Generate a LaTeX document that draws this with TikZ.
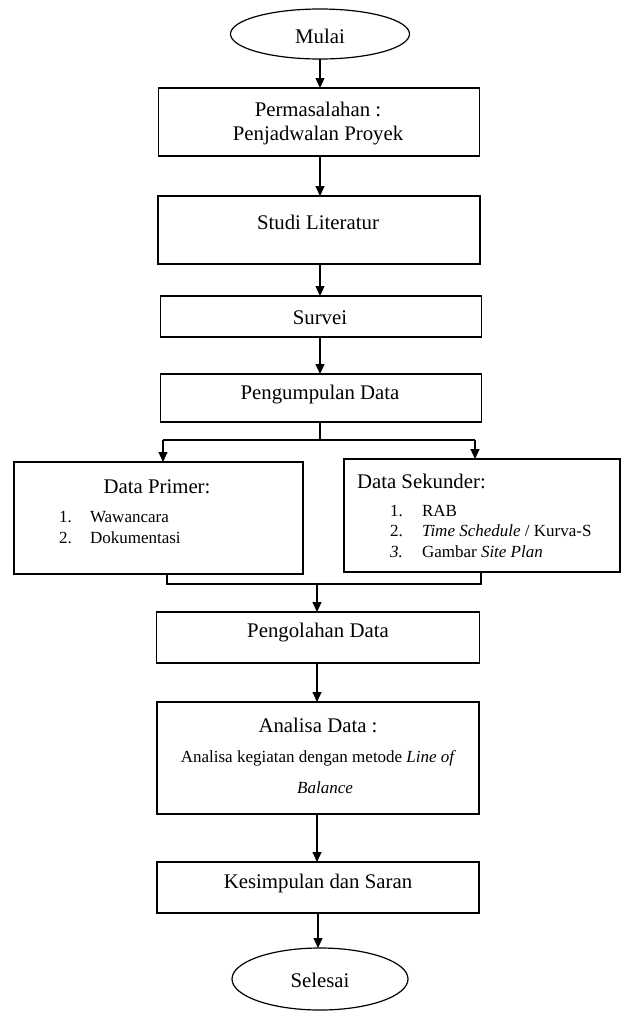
\documentclass[tikz,border=0pt]{standalone}
\usepackage{fontspec}
\setmainfont{Liberation Serif}
\usetikzlibrary{arrows.meta,shapes.geometric}
\begin{document}
\begin{tikzpicture}[x=1pt,y=-1pt,
  every node/.style={inner sep=0pt, outer sep=0pt},
  boxnode/.style={draw, line width=1.2pt, rectangle},
  ovalnode/.style={draw, line width=1.2pt, ellipse},
  big/.style={font=\fontsize{20.8}{24}\selectfont},
  small/.style={font=\fontsize{17}{20.5}\selectfont},
  conn/.style={line width=1.2pt},
  arr/.style={line width=1.2pt, -{Triangle[length=10pt,width=9pt]}}]
\useasboundingbox (0,0) rectangle (622,1012);
% shapes
\node[ovalnode, minimum width=179pt, minimum height=50pt] (mulai) at (320,34) {};
\node[boxnode, minimum width=321pt, minimum height=68pt] (perm) at (319,122) {};
\node[boxnode, minimum width=322pt, minimum height=68pt] (studi) at (319,230) {};
\node[boxnode, minimum width=321pt, minimum height=41pt] (survei) at (321,316.5) {};
\node[boxnode, minimum width=321pt, minimum height=48pt] (peng) at (321,398) {};
\node[boxnode, minimum width=289pt, minimum height=112pt] (primer) at (158.5,518) {};
\node[boxnode, minimum width=276pt, minimum height=113pt] (sekunder) at (482,515.5) {};
\node[boxnode, minimum width=323pt, minimum height=51pt] (olah) at (318,637.5) {};
\node[boxnode, minimum width=322pt, minimum height=112pt] (analisa) at (318,758) {};
\node[boxnode, minimum width=322pt, minimum height=51pt] (kes) at (318,887.5) {};
\node[ovalnode, minimum width=176pt, minimum height=62pt] (selesai) at (320,979) {};
% texts
\node[big] (tmulai) at (320,36) {Mulai};
\node[big, align=center] (tperm) at (318,124) {Permasalahan :\\Penjadwalan Proyek};
\node[big] (tstudi) at (318,222) {Studi Literatur};
\node[big] (tsurvei) at (320,318) {Survei};
\node[big] (tpeng) at (320,395) {Pengumpulan Data};
\node[big] (tprimer) at (157,487) {Data Primer:};
\node[small, anchor=mid west] (p1n) at (59,520) {1.};
\node[small, anchor=mid west] (p1) at (90,520) {Wawancara};
\node[small, anchor=mid west] (p2n) at (59,541) {2.};
\node[small, anchor=mid west] (p2) at (90,541) {Dokumentasi};
\node[big, anchor=west] (tsek) at (357,481) {Data Sekunder:};
\node[small, anchor=mid west] (s1n) at (390,514) {1.};
\node[small, anchor=mid west] (s1) at (422,514) {RAB};
\node[small, anchor=mid west] (s2n) at (390,534) {2.};
\node[small, anchor=mid west] (s2) at (422,534) {\textit{Time Schedule} / Kurva-S};
\node[small, anchor=mid west] (s3n) at (390,555) {\textit{3.}};
\node[small, anchor=mid west] (s3) at (422,555) {Gambar \textit{Site Plan}};
\node[big] (tolah) at (318,633) {Pengolahan Data};
\node[big] (tanalisa) at (318,725) {Analisa Data :};
\node[small] (tan2) at (318.5,758) {Analisa kegiatan dengan metode \textit{Line of}};
\node[small] (tan3) at (325,788) {\textit{Balance}};
\node[big] (tkes) at (318,883) {Kesimpulan dan Saran};
\node[big] (tsel) at (320,980) {Selesai};
% connectors
\coordinate (split) at (320,440);
\coordinate (splitL) at (163,440);
\coordinate (splitR) at (475,440);
\coordinate (joinL) at (167,584);
\coordinate (joinR) at (481,584);
\coordinate (joinM) at (317,584);
\draw[arr] (mulai.south) -- (mulai.south |- perm.north);
\draw[arr] (320,0 |- perm.south) -- (320,0 |- studi.north);
\draw[arr] (320,0 |- studi.south) -- (320,0 |- survei.north);
\draw[arr] (320,0 |- survei.south) -- (320,0 |- peng.north);
\draw[conn] (320,0 |- peng.south) -- (split);
\draw[conn] (splitL) -- (splitR);
\draw[arr] (splitL) -- (splitL |- primer.north);
\draw[arr] (splitR) -- (splitR |- sekunder.north);
\draw[conn] (joinL |- primer.south) -- (joinL) -- (joinR) -- (joinR |- sekunder.south);
\draw[arr] (joinM) -- (joinM |- olah.north);
\draw[arr] (317,0 |- olah.south) -- (317,0 |- analisa.north);
\draw[arr] (317,0 |- analisa.south) -- (317,0 |- kes.north);
\draw[arr] (318,0 |- kes.south) -- (318,0 |- selesai.north);
\end{tikzpicture}
\end{document}
